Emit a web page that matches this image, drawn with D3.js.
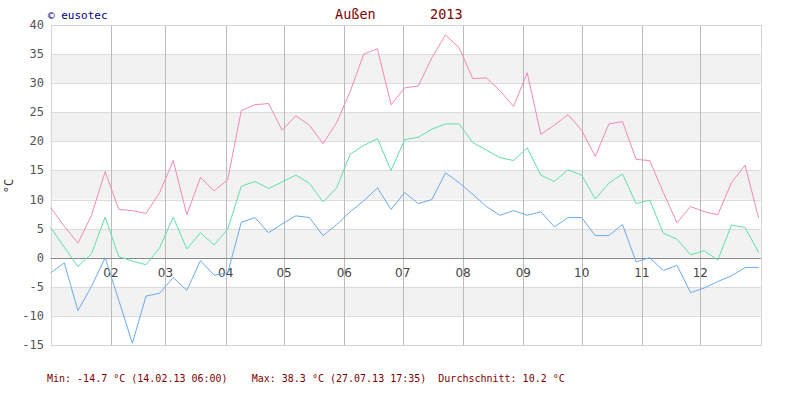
<!DOCTYPE html>
<html><head><meta charset="utf-8">
<script src="https://cdn.jsdelivr.net/npm/d3@7"></script>
<style>body{margin:0;background:#fff}svg{display:block}</style>
</head><body>
<svg id="c" width="800" height="400"></svg>
<script>
const startDate = "2013-01-01";
const stepDays = 7;
const maxVals = [8.6,5.4,2.5,7.3,14.8,8.3,8.1,7.6,11.2,16.7,7.4,13.8,11.5,13.4,25.3,26.3,26.5,21.9,24.4,22.8,19.6,23.2,28.6,35.0,35.9,26.3,29.2,29.5,34.4,38.3,36.1,30.8,30.9,28.7,26.0,31.8,21.2,22.8,24.6,21.9,17.4,23.0,23.4,16.9,16.7,11.2,6.0,8.8,7.9,7.4,12.9,15.9,6.8];
const avgVals = [5.2,1.8,-1.5,0.7,7.0,0.2,-0.6,-1.2,1.7,7.0,1.5,4.3,2.2,4.9,12.3,13.1,11.9,13.0,14.2,12.8,9.6,12.0,17.8,19.3,20.5,15.0,20.3,20.7,22.1,23.0,23.0,19.8,18.5,17.2,16.7,18.9,14.2,13.1,15.1,14.2,10.1,12.8,14.4,9.3,9.9,4.2,3.2,0.5,1.2,-0.4,5.6,5.2,0.9];
const minVals = [-2.6,-0.9,-9.1,-4.9,0.0,-7.3,-14.7,-6.6,-6.1,-3.4,-5.6,-0.5,-3.0,-2.6,6.1,6.9,4.3,5.8,7.2,6.9,3.8,5.7,7.9,9.8,12.0,8.3,11.2,9.3,10.0,14.6,12.9,10.9,8.8,7.3,8.1,7.3,7.9,5.3,6.9,6.9,3.8,3.8,5.7,-0.7,0.0,-2.2,-1.3,-6.0,-5.2,-4.1,-3.1,-1.7,-1.7];
const yTicks = [-15,-10,-5,0,5,10,15,20,25,30,35,40];
const monthLabels = ["02","03","04","05","06","07","08","09","10","11","12"];
const titleText = "Außen", yearText = "2013", copyText = "© eusotec";
const footerText = "Min: -14.7 °C (14.02.13 06:00)    Max: 38.3 °C (27.07.13 17:35)  Durchschnitt: 10.2 °C";

const svg = d3.select("#c");
const L = 50.7, R = 760.6, T = 25, B = 345;
const parse = d3.utcParse("%Y-%m-%d");
const d0 = parse(startDate);
const dates = maxVals.map((_, i) => d3.utcDay.offset(d0, i * stepDays));
const x = d3.scaleUtc().domain([d0, parse("2014-01-01")]).range([L, R]);
const y = d3.scaleLinear().domain([-15, 40]).range([B, T]);

// bands
const bands = [[30,35],[20,25],[10,15],[0,5],[-10,-5]];
svg.append("g").selectAll("rect").data(bands).join("rect")
  .attr("x", L).attr("width", R - L)
  .attr("y", d => y(d[1])).attr("height", d => y(d[0]) - y(d[1]))
  .attr("fill", "#f2f2f2");

// horizontal grid
svg.append("g").selectAll("line").data(yTicks).join("line")
  .attr("x1", L).attr("x2", R)
  .attr("y1", d => Math.round(y(d)) + 0.5).attr("y2", d => Math.round(y(d)) + 0.5)
  .attr("stroke", d => d === 0 ? "#888" : "#dcdcdc").attr("stroke-width", 1);

// month lines
const months = d3.utcMonth.range(parse("2013-02-01"), parse("2014-01-01"));
svg.append("g").selectAll("line").data(months).join("line")
  .attr("x1", d => Math.round(x(d)) + 0.5).attr("x2", d => Math.round(x(d)) + 0.5)
  .attr("y1", T).attr("y2", B)
  .attr("stroke", "#bbbbbb");

// border
svg.append("rect").attr("x", Math.round(L) + 0.5).attr("y", T + 0.5)
  .attr("width", Math.round(R - L)).attr("height", B - T)
  .attr("fill", "none").attr("stroke", "#d4d4d4");

// zero line on top of month lines
svg.append("line").attr("x1", L).attr("x2", R)
  .attr("y1", Math.round(y(0)) + 0.5).attr("y2", Math.round(y(0)) + 0.5)
  .attr("stroke", "#888");

// y axis labels
svg.append("g").selectAll("text").data(yTicks).join("text")
  .attr("x", 44).attr("y", d => y(d) + 4)
  .attr("text-anchor", "end")
  .attr("font-family", "DejaVu Sans Mono").attr("font-size", 12).attr("fill", "#555")
  .text(d => d);

svg.append("text").attr("transform", "translate(13,186) rotate(-90)")
  .attr("text-anchor", "middle")
  .attr("font-family", "DejaVu Sans Mono").attr("font-size", 12).attr("fill", "#333")
  .text("°C");

// month labels
svg.append("g").selectAll("text").data(months).join("text")
  .attr("x", d => x(d)).attr("y", y(0) + 19)
  .attr("text-anchor", "middle")
  .attr("font-family", "DejaVu Sans").attr("font-size", 12).attr("fill", "#444")
  .text((d, i) => monthLabels[i]);

// lines
const series = [
  {vals: minVals, color: "#6aaaf0"},
  {vals: avgVals, color: "#5fe0a5"},
  {vals: maxVals, color: "#f588b8"}
];
const line = d3.line().x(d => x(d.date)).y(d => y(d.v));
series.forEach(s => {
  svg.append("path")
    .datum(s.vals.map((v, i) => ({date: dates[i], v})))
    .attr("d", line).attr("fill", "none")
    .attr("stroke", s.color).attr("stroke-width", 1);
});

// titles
svg.append("text").attr("x", 48).attr("y", 19)
  .attr("font-family", "DejaVu Sans Mono").attr("font-size", 11).attr("fill", "#000080")
  .text(copyText);
svg.append("text").attr("x", 335).attr("y", 19)
  .attr("font-family", "DejaVu Sans Mono").attr("font-size", 13.5).attr("fill", "#800000")
  .text(titleText);
svg.append("text").attr("x", 430).attr("y", 19)
  .attr("font-family", "DejaVu Sans Mono").attr("font-size", 13.5).attr("fill", "#800000")
  .text(yearText);

// footer
svg.append("text").attr("x", 47).attr("y", 382)
  .attr("font-family", "DejaVu Sans Mono").attr("font-size", 10).attr("fill", "#800000")
  .attr("xml:space", "preserve").style("white-space", "pre")
  .text(footerText);
</script>
</body></html>
